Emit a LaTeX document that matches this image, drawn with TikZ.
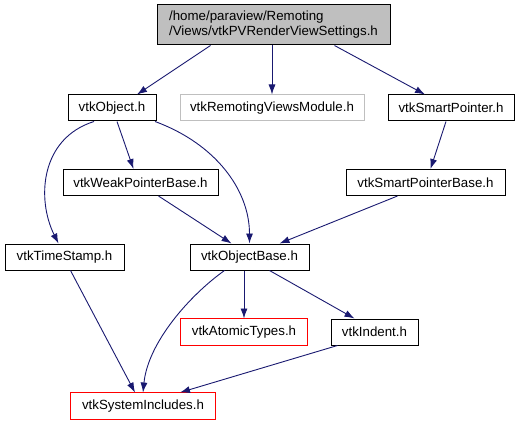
\documentclass[tikz,border=0pt]{standalone}
\usepackage{fontspec}
\setmainfont{Liberation Sans}
\usetikzlibrary{arrows.meta}
\begin{document}
\begin{tikzpicture}[x=1pt, y=1pt, >={Latex[length=10pt, width=7pt]},
		font=\fontsize{13.3}{15}\selectfont]
			\definecolor{edgeblue}{RGB}{25, 25, 112}
			\definecolor{hdrgray}{RGB}{191, 191, 191}
			\definecolor{missred}{RGB}{255, 0, 0}
			\tikzset{
				hdr/.style={draw=black, line width=1pt, fill=white, minimum height=26, inner sep=0pt},
				ext/.style={draw=hdrgray, line width=1pt, fill=white, minimum height=26, inner sep=0pt},
				missing/.style={fill=white, line width=1pt, minimum height=26, inner sep=0pt},
				dep/.style={->, edgeblue, line width=0.9pt}
			}
			\useasboundingbox (0,0) rectangle (522,-425);
			\node[hdr, fill=hdrgray, minimum width=233, minimum height=40, align=left] (root) at (273.5,-25)
				{/home/paraview/Remoting\\/Views/vtkPVRenderViewSettings.h};
			\node[hdr, minimum width=88] (obj) at (112,-108) {vtkObject.h};
			\node[ext, minimum width=184] (module) at (272,-108) {vtkRemotingViewsModule.h};
			\node[hdr, minimum width=126] (sp) at (451,-108) {vtkSmartPointer.h};
			\node[hdr, minimum width=155] (weak) at (140.5,-182.5) {vtkWeakPointerBase.h};
			\node[hdr, minimum width=159] (spbase) at (425.5,-182.5) {vtkSmartPointerBase.h};
			\node[hdr, minimum width=119] (time) at (64.5,-257) {vtkTimeStamp.h};
			\node[hdr, minimum width=119] (objbase) at (249.5,-257) {vtkObjectBase.h};
			\node[missing, minimum width=126] (atomic) at (244,-332) {vtkAtomicTypes.h};
			\node[hdr, minimum width=87] (indent) at (374.5,-332) {vtkIndent.h};
			\node[missing, minimum width=144] (sysinc) at (143,-406) {vtkSystemIncludes.h};
			% red frames of the headers that were not found
			\foreach \n in {atomic, sysinc}
				\draw[missred, line width=1pt] (\n.north west) rectangle (\n.south east);
			% edges from the header down
			\draw[dep] ([xshift=-63]root.south) -- ([xshift=25]obj.north);
			\draw[dep] (root.south -| module) -- (module.north);
			\draw[dep] ([xshift=61]root.south) -- ([xshift=-26]sp.north);
			\draw[dep] ([xshift=5]obj.south) -- ([xshift=-7]weak.north);
			\draw[dep] ([xshift=-18]obj.south) .. controls +(-54,-17) and +(-22,44) .. ([xshift=-6]time.north);
			\draw[dep] ([xshift=43]obj.south) .. controls +(60,-22) and +(0,54) .. (objbase.north);
			\draw[dep] ([xshift=18]weak.south) -- ([xshift=-18]objbase.north);
			\draw[dep] ([xshift=-28]spbase.south) -- ([xshift=30]objbase.north);
			\draw[dep] ([xshift=-5]sp.south) -- ([xshift=5]spbase.north);
			\draw[dep] ([xshift=6]time.south) -- ([xshift=-8]sysinc.north);
			\draw[dep] ([xshift=-25]objbase.south) .. controls +(-35,-25) and +(5,50) .. (sysinc.north);
			\draw[dep] (objbase.south -| atomic) -- (atomic.north);
			\draw[dep] ([xshift=20]objbase.south) -- ([xshift=-20]indent.north);
			\draw[dep] ([xshift=-37]indent.south) -- ([xshift=37]sysinc.north);
		\end{tikzpicture}
\end{document}
